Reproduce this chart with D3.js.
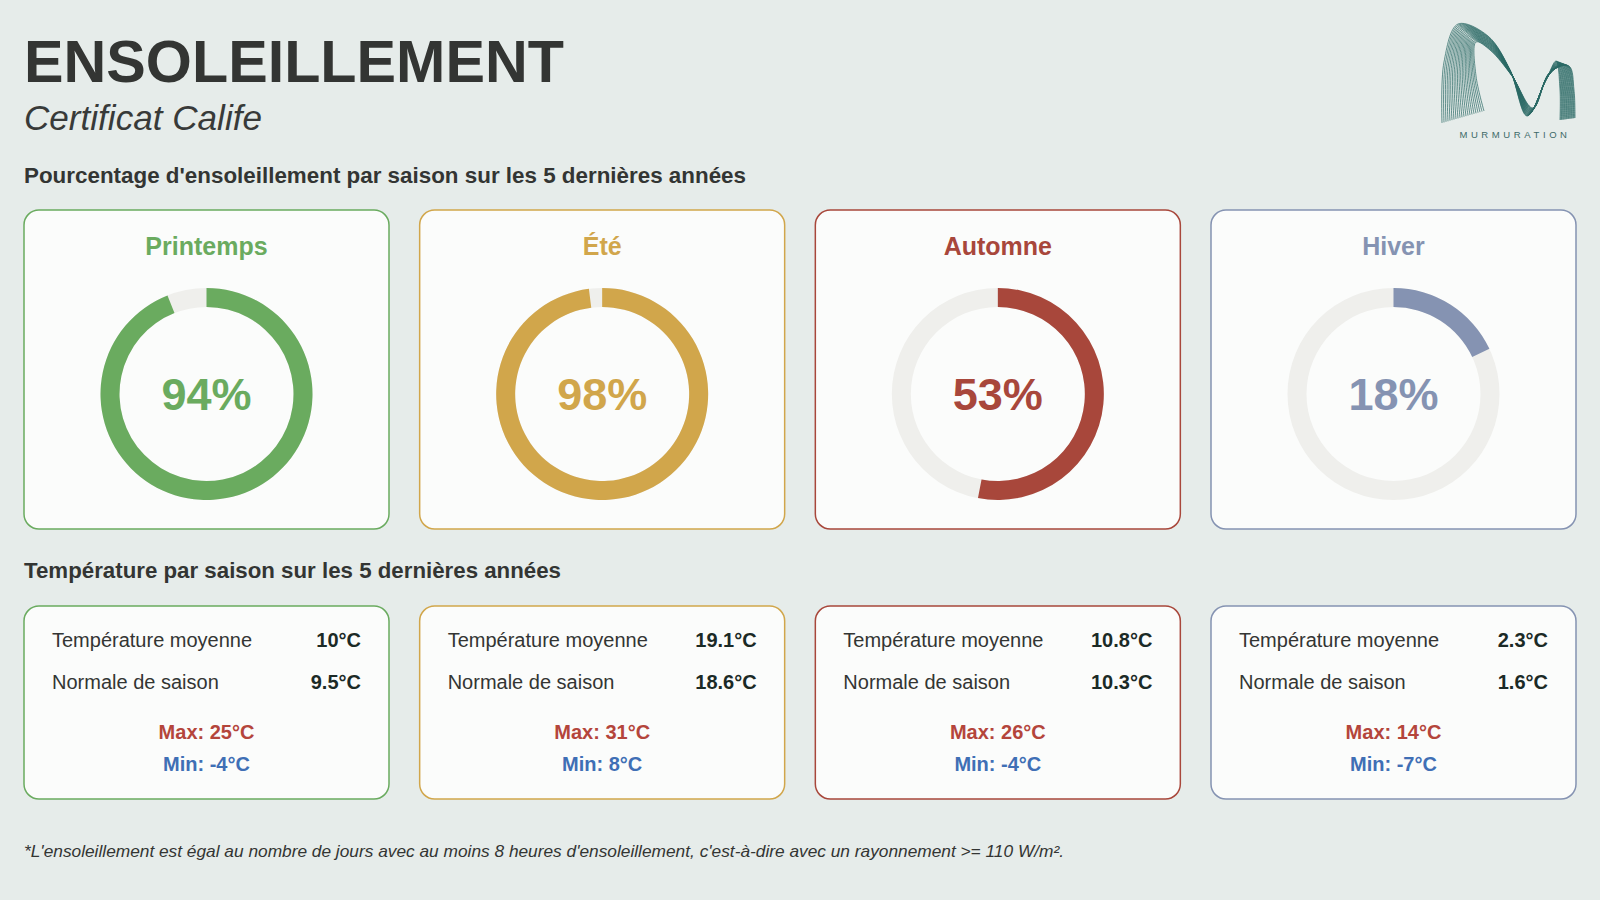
<!DOCTYPE html>
<html><head><meta charset="utf-8">
<script src="https://cdn.jsdelivr.net/npm/d3@7"></script>
<style>
html,body{margin:0;padding:0;background:#e6ecea;}
svg{display:block;font-family:"Liberation Sans",Arial,sans-serif;}
</style></head>
<body>
<svg id="chart" width="1600" height="900"></svg>
<script>
// ---- data ----
const seasons = ["Printemps", "Été", "Automne", "Hiver"];
const sunshinePct = [94, 98, 53, 18];
const tempAverage = [10, 19.1, 10.8, 2.3];
const tempNormal = [9.5, 18.6, 10.3, 1.6];
const tempMax = [25, 31, 26, 14];
const tempMin = [-4, 8, -4, -7];
const seasonColors = ["#6aab5f", "#d1a64b", "#a8473b", "#8593b2"];
const title = "ENSOLEILLEMENT";
const subtitle = "Certificat Calife";
const header1 = "Pourcentage d'ensoleillement par saison sur les 5 dernières années";
const header2 = "Température par saison sur les 5 dernières années";
const footnote = "*L'ensoleillement est égal au nombre de jours avec au moins 8 heures d'ensoleillement, c'est-à-dire avec un rayonnement >= 110 W/m².";

const svg = d3.select("#chart");
const W = 1600, H = 900;
svg.append("rect").attr("width", W).attr("height", H).attr("fill", "#e6ecea");

// ---- headings ----
function fit(sel, w){ sel.attr("textLength", w).attr("lengthAdjust", "spacingAndGlyphs"); return sel; }
fit(svg.append("text").attr("x", 24).attr("y", 82).attr("font-size", 60).attr("font-weight", 700)
  .attr("fill", "#333533").text(title), 540);
fit(svg.append("text").attr("x", 24).attr("y", 130).attr("font-size", 35).attr("font-style", "italic")
  .attr("fill", "#383a39").text(subtitle), 238);
fit(svg.append("text").attr("x", 24).attr("y", 183).attr("font-size", 21.5).attr("font-weight", 700)
  .attr("fill", "#333533").text(header1), 722);
fit(svg.append("text").attr("x", 24).attr("y", 578).attr("font-size", 21.5).attr("font-weight", 700)
  .attr("fill", "#333533").text(header2), 537);
fit(svg.append("text").attr("x", 24).attr("y", 857).attr("font-size", 16.5).attr("font-style", "italic")
  .attr("fill", "#333533").text(footnote), 1040);

// ---- scales ----
const x = d3.scaleBand().domain(seasons).range([24, 1576]).paddingInner(0.0775).paddingOuter(0);
const bw = x.bandwidth();
const angle = d3.scaleLinear().domain([0, 100]).range([0, 2 * Math.PI]);
const arc = d3.arc().innerRadius(87).outerRadius(106);

const data = seasons.map((s, i) => ({
  season: s, pct: sunshinePct[i], avg: tempAverage[i], normal: tempNormal[i],
  max: tempMax[i], min: tempMin[i], color: seasonColors[i]
}));

// ---- sunshine cards ----
const card = svg.selectAll("g.sun").data(data).join("g").attr("class", "sun")
  .attr("transform", d => `translate(${x(d.season)},0)`);
card.append("rect").attr("x", 0).attr("y", 210).attr("width", bw).attr("height", 319)
  .attr("rx", 15).attr("fill", "#fbfcfb").attr("stroke", d => d.color).attr("stroke-width", 1.5);
card.append("text").attr("x", bw / 2).attr("y", 255).attr("text-anchor", "middle")
  .attr("font-size", 25).attr("font-weight", 700).attr("fill", d => d.color).text(d => d.season);
const donut = card.append("g").attr("transform", `translate(${bw / 2},394)`);
donut.append("path").attr("d", arc({startAngle: 0, endAngle: 2 * Math.PI})).attr("fill", "#efefec");
donut.append("path").attr("d", d => arc({startAngle: 0, endAngle: angle(d.pct)})).attr("fill", d => d.color);
donut.append("text").attr("x", 0).attr("y", 16).attr("text-anchor", "middle")
  .attr("font-size", 45).attr("font-weight", 700).attr("fill", d => d.color).text(d => d.pct + "%");

// ---- temperature cards ----
const fmt = v => v + "°C";
const tc = svg.selectAll("g.temp").data(data).join("g").attr("class", "temp")
  .attr("transform", d => `translate(${x(d.season)},0)`);
tc.append("rect").attr("x", 0).attr("y", 606).attr("width", bw).attr("height", 193)
  .attr("rx", 15).attr("fill", "#fbfcfb").attr("stroke", d => d.color).attr("stroke-width", 1.5);
tc.append("text").attr("x", 28).attr("y", 647).attr("font-size", 20).attr("fill", "#333533").text("Température moyenne");
tc.append("text").attr("x", 28).attr("y", 689).attr("font-size", 20).attr("fill", "#333533").text("Normale de saison");
tc.append("text").attr("x", bw - 28).attr("y", 647).attr("text-anchor", "end").attr("font-size", 20)
  .attr("font-weight", 700).attr("fill", "#1b2a26").text(d => fmt(d.avg));
tc.append("text").attr("x", bw - 28).attr("y", 689).attr("text-anchor", "end").attr("font-size", 20)
  .attr("font-weight", 700).attr("fill", "#1b2a26").text(d => fmt(d.normal));
tc.append("text").attr("x", bw / 2).attr("y", 739).attr("text-anchor", "middle").attr("font-size", 20)
  .attr("font-weight", 700).attr("fill", "#b4453b").text(d => "Max: " + fmt(d.max));
tc.append("text").attr("x", bw / 2).attr("y", 771).attr("text-anchor", "middle").attr("font-size", 20)
  .attr("font-weight", 700).attr("fill", "#3f6fb5").text(d => "Min: " + fmt(d.min));

// ---- logo (decorative) ----
const logo = svg.append("g").attr("class", "logo");
const line = d3.line().curve(d3.curveCatmullRom.alpha(0.5));
const nLines = 22;
for (let i = 0; i < nLines; i++) {
  const t = i / (nLines - 1);
  const pts = [
    [1442 + 42 * t, 123 - 12 * t],
    [1444 + 32 * t, 62 + 14 * t],
    [1458 + 18 * t, 24 + 18 * t],
    [1488 + 2 * t, 36 + 14 * t],
    [1510 + 2 * t, 70 + 6 * t],
    [1527 + 6 * t, 116 - 8 * t],
    [1546 + 4 * t, 80 - 8 * t],
    [1556 + 13 * t, 61 + 5 * t],
    [1560 + 14 * t, 90],
    [1560 + 15 * t, 120 - 2 * t]
  ];
  logo.append("path").attr("d", line(pts)).attr("fill", "none")
    .attr("stroke", "#2a6964").attr("stroke-width", 0.8).attr("opacity", 0.9);
}
logo.append("text").attr("x", 1515).attr("y", 138).attr("text-anchor", "middle")
  .attr("font-size", 9.5).attr("letter-spacing", 3.6).attr("fill", "#3d6a68").text("MURMURATION");
</script>
</body></html>
